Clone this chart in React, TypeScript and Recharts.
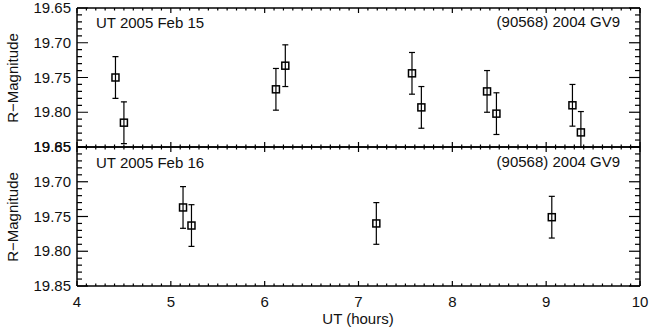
import { ScatterChart, Scatter, XAxis, YAxis, ErrorBar } from 'recharts'

// UT 2005 Feb 15
const feb15Hours = [4.41, 4.50, 6.12, 6.22, 7.57, 7.67, 8.37, 8.47, 9.28, 9.37]
const feb15Mag = [19.750, 19.815, 19.767, 19.733, 19.744, 19.793, 19.770, 19.802, 19.790, 19.829]
const feb15Err = [0.030, 0.030, 0.030, 0.030, 0.030, 0.030, 0.030, 0.030, 0.030, 0.030]

// UT 2005 Feb 16
const feb16Hours = [5.13, 5.22, 7.19, 9.06]
const feb16Mag = [19.737, 19.763, 19.760, 19.751]
const feb16Err = [0.030, 0.030, 0.030, 0.030]

const xMajor = [4, 5, 6, 7, 8, 9, 10]
const yMajor = [19.65, 19.70, 19.75, 19.80, 19.85]
const objectName = '(90568) 2004 GV9'

const FONT = '"Liberation Sans", Arial, sans-serif'
const W = 649
const H = 335
const LEFT = 77
const RIGHT = 9

const xTicks: number[] = []
for (let i = 0; i <= 60; i++) xTicks.push(Math.round((4 + i * 0.1) * 10) / 10)
const yTicks: number[] = []
for (let i = 0; i <= 20; i++) yTicks.push(Math.round((19.65 + i * 0.01) * 100) / 100)

const build = (hrs: number[], mag: number[], err: number[]) =>
  hrs.map((h, i) => ({ x: h, y: mag[i], e: err[i] }))

const isXMajor = (v: number) => xMajor.some(m => Math.abs(m - v) < 1e-6)
const isYMajor = (v: number) => yMajor.some(m => Math.abs(m - v) < 1e-6)

const xTick = (dir: number, labels: boolean) => (props: any) => {
  const { x, y, payload } = props
  const major = isXMajor(payload.value)
  const len = major ? 5 : 2.5
  return (
    <g>
      <line x1={x} x2={x} y1={y} y2={y + dir * len} stroke="#000" strokeWidth={1.2} />
      {labels && major && (
        <text x={x} y={y + 21} textAnchor="middle" fontFamily={FONT} fontSize={15} fill="#111">
          {payload.value}
        </text>
      )}
    </g>
  )
}

const yTick = (dir: number, labels: boolean) => (props: any) => {
  const { x, y, payload } = props
  const major = isYMajor(payload.value)
  const len = major ? 11 : 5
  return (
    <g>
      <line x1={x} x2={x + dir * len} y1={y} y2={y} stroke="#000" strokeWidth={1.2} />
      {labels && major && (
        <text x={x - 6} y={y + 5} textAnchor="end" fontFamily={FONT} fontSize={15} fill="#111">
          {payload.value.toFixed(2)}
        </text>
      )}
    </g>
  )
}

const Square = (props: any) => {
  const { cx, cy } = props
  return <rect x={cx - 3.5} y={cy - 3.5} width={7} height={7} fill="none" stroke="#000" strokeWidth={1.5} />
}

function Panel({ data, top, bottom, xLabels, clip }: {
  data: any[]; top: number; bottom: number; xLabels: boolean; clip?: string
}) {
  const axisLine = { stroke: '#000', strokeWidth: 1.5 }
  return (
    <div style={{ position: 'absolute', left: 0, top: 0, clipPath: clip }}>
      <ScatterChart width={W} height={H}
        margin={{ top: top - 1, bottom: H - bottom - 1, left: LEFT - 1, right: RIGHT - 1 }}>
        <XAxis xAxisId="b" type="number" dataKey="x" domain={[4, 10]} ticks={xTicks} interval={0}
          allowDataOverflow height={1} tickSize={0} tickMargin={0} tick={xTick(-1, xLabels)}
          axisLine={axisLine} tickLine={false} />
        <XAxis xAxisId="t" orientation="top" type="number" dataKey="x" domain={[4, 10]} ticks={xTicks} interval={0}
          allowDataOverflow height={1} tickSize={0} tickMargin={0} tick={xTick(1, false)}
          axisLine={axisLine} tickLine={false} />
        <YAxis yAxisId="l" type="number" dataKey="y" domain={[19.65, 19.85]} reversed ticks={yTicks} interval={0}
          allowDataOverflow width={1} tickSize={0} tickMargin={0} tick={yTick(1, true)}
          axisLine={axisLine} tickLine={false} />
        <YAxis yAxisId="r" orientation="right" type="number" dataKey="y" domain={[19.65, 19.85]} reversed ticks={yTicks}
          interval={0} allowDataOverflow width={1} tickSize={0} tickMargin={0} tick={yTick(-1, false)}
          axisLine={axisLine} tickLine={false} />
        <Scatter data={data} xAxisId="b" yAxisId="l" shape={Square} isAnimationActive={false}>
          <ErrorBar dataKey="e" direction="y" width={3} stroke="#000" strokeWidth={1.2} isAnimationActive={false} />
        </Scatter>
        <Scatter data={data} xAxisId="t" yAxisId="r" shape={() => null} isAnimationActive={false} />
      </ScatterChart>
    </div>
  )
}

export default function App() {
  const txt = { fontFamily: FONT, fontSize: 15, fill: '#111' }
  // keep the top panel's error bars inside its frame, but leave the y labels whole
  const topClip = `polygon(0 0, ${W}px 0, ${W}px 148px, 72px 148px, 72px ${H}px, 0 ${H}px)`
  return (
    <div style={{ position: 'absolute', left: 0, top: 0, width: W, height: H, background: '#fff' }}>
      <Panel data={build(feb15Hours, feb15Mag, feb15Err)} top={8} bottom={147} xLabels={false} clip={topClip} />
      <Panel data={build(feb16Hours, feb16Mag, feb16Err)} top={147} bottom={286} xLabels={true} />
      <svg width={W} height={H} style={{ position: 'absolute', left: 0, top: 0, pointerEvents: 'none' }}>
        <text x={96} y={28} {...txt}>UT 2005 Feb 15</text>
        <text x={620} y={27} textAnchor="end" {...txt}>{objectName}</text>
        <text x={96} y={168} {...txt}>UT 2005 Feb 16</text>
        <text x={620} y={167} textAnchor="end" {...txt}>{objectName}</text>
        <text transform="translate(18,78) rotate(-90)" textAnchor="middle" {...txt}>R−Magnitude</text>
        <text transform="translate(18,217) rotate(-90)" textAnchor="middle" {...txt}>R−Magnitude</text>
        <text x={358} y={324} textAnchor="middle" {...txt}>UT (hours)</text>
      </svg>
    </div>
  )
}
